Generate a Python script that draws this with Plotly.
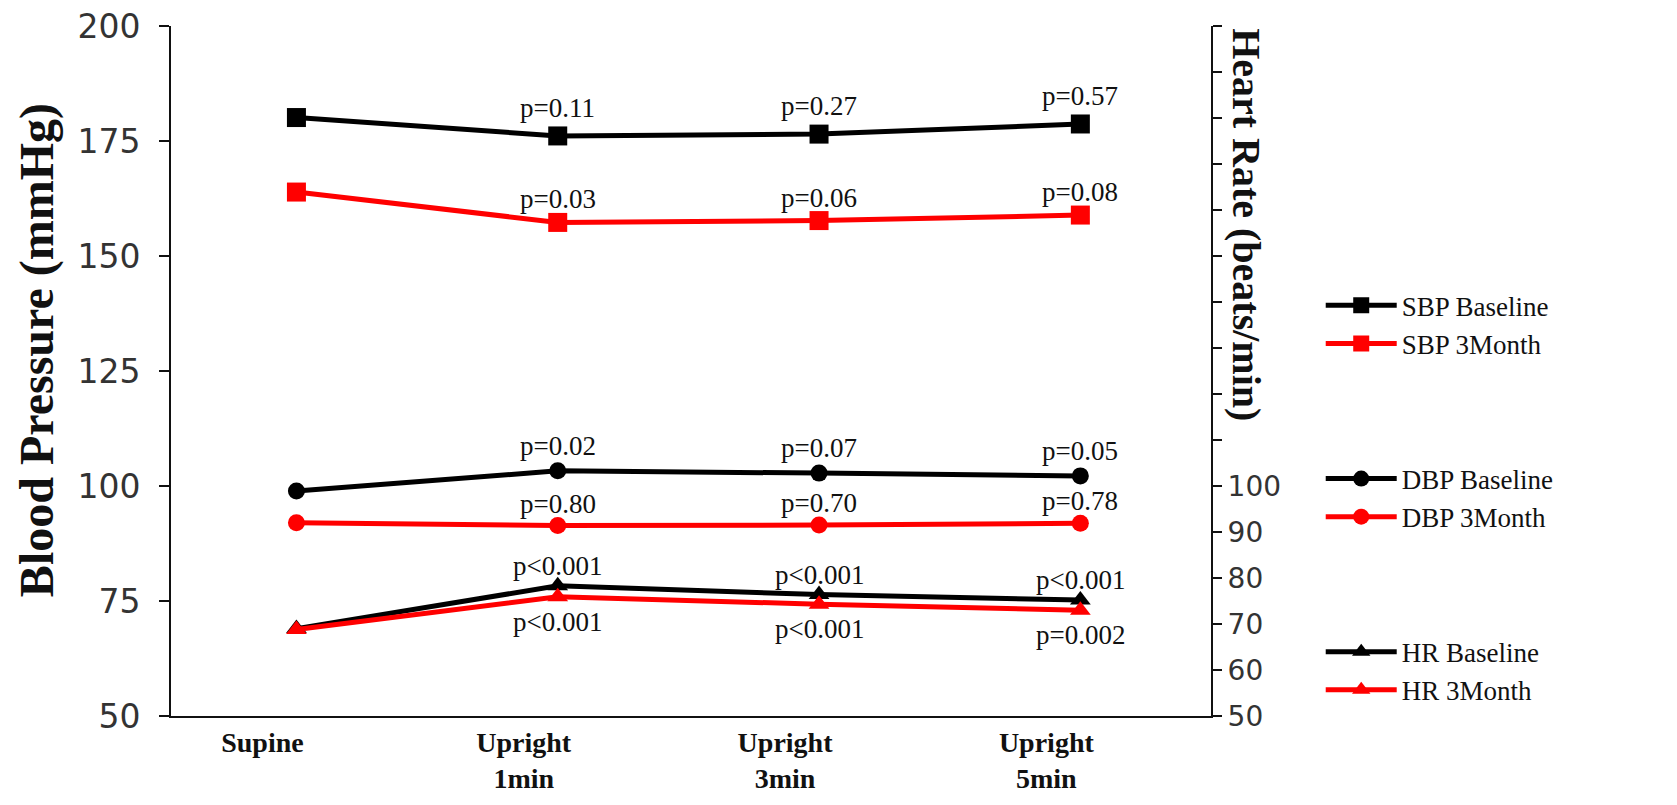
import plotly.graph_objects as go

# ---- data ----
categories = ["Supine", "Upright<br>1min", "Upright<br>3min", "Upright<br>5min"]
sbp_baseline = [180.1, 176.1, 176.5, 178.7]
sbp_3month = [163.9, 157.3, 157.7, 158.9]
dbp_baseline = [98.9, 103.3, 102.8, 102.2]
dbp_3month = [92.0, 91.4, 91.5, 91.9]
hr_baseline = [69.0, 78.3, 76.4, 75.2]
hr_3month = [68.8, 75.9, 74.3, 73.0]

p_sbp_baseline = ["p=0.11", "p=0.27", "p=0.57"]
p_sbp_3month = ["p=0.03", "p=0.06", "p=0.08"]
p_dbp_baseline = ["p=0.02", "p=0.07", "p=0.05"]
p_dbp_3month = ["p=0.80", "p=0.70", "p=0.78"]
p_hr_baseline = ["p<0.001", "p<0.001", "p<0.001"]
p_hr_3month = ["p<0.001", "p<0.001", "p=0.002"]

left_ticks = [50, 75, 100, 125, 150, 175, 200]
right_ticks = list(range(50, 201, 10))
right_ticktext = [str(v) if v <= 100 else "" for v in right_ticks]

xpos = list(range(len(categories)))

SERIF = "Liberation Serif, Times New Roman, serif"
SANS = "DejaVu Sans, Verdana, sans-serif"
BLACK = "#000000"
RED = "#ff0000"

fig = go.Figure()

series = [
    ("SBP Baseline", sbp_baseline, BLACK, "square", 19, "y", "sbp"),
    ("SBP 3Month", sbp_3month, RED, "square", 19, "y", "sbp"),
    ("DBP Baseline", dbp_baseline, BLACK, "circle", 17, "y", "dbp"),
    ("DBP 3Month", dbp_3month, RED, "circle", 17, "y", "dbp"),
    ("HR Baseline", hr_baseline, BLACK, "triangle-up", 18, "y2", "hr"),
    ("HR 3Month", hr_3month, RED, "triangle-up", 18, "y2", "hr"),
]
for name, vals, col, sym, size, yax, grp in series:
    fig.add_trace(go.Scatter(
        x=xpos, y=vals, name=name, mode="lines+markers",
        line=dict(color=col, width=5),
        marker=dict(symbol=sym, size=size, color=col),
        yaxis=yax, legendgroup=grp,
    ))

annots = []
def add_p(labels, vals, shift, yref):
    for i, txt in enumerate(labels):
        annots.append(dict(
            x=xpos[i + 1], y=vals[i + 1], xref="x", yref=yref, text=txt,
            showarrow=False, yanchor="middle", yshift=shift,
            font=dict(family=SERIF, size=27, color="#111"),
        ))

add_p(p_sbp_baseline, sbp_baseline, 28, "y")
add_p(p_sbp_3month, sbp_3month, 23, "y")
add_p(p_dbp_baseline, dbp_baseline, 25, "y")
add_p(p_dbp_3month, dbp_3month, 22, "y")
add_p(p_hr_baseline, hr_baseline, 20, "y2")
add_p(p_hr_3month, hr_3month, -25, "y2")

# axis titles
annots.append(dict(
    x=-0.129, y=0.53, xref="paper", yref="paper", text="<b>Blood Pressure (mmHg)</b>",
    textangle=-90, showarrow=False, xanchor="center", yanchor="middle",
    font=dict(family=SERIF, size=48, color="#111"),
))
annots.append(dict(
    x=1.034, y=1.0, xref="paper", yref="paper", text="<b>Heart Rate (beats/min)</b>",
    textangle=90, showarrow=False, xanchor="center", yanchor="top",
    font=dict(family=SERIF, size=40, color="#111"),
))

fig.update_layout(
    width=1677, height=805,
    margin=dict(l=163, r=474, t=18, b=97, autoexpand=False),
    paper_bgcolor="white", plot_bgcolor="white",
    showlegend=True,
    legend=dict(
        x=1.1055, y=0.63, xanchor="left", yanchor="top",
        font=dict(family=SERIF, size=27, color="#111"),
        tracegroupgap=97, itemwidth=71, bgcolor="rgba(0,0,0,0)",
    ),
    annotations=annots,
    xaxis=dict(
        range=[-0.48, 3.5], tickvals=xpos, ticktext=["<b>" + c + "</b>" for c in categories],
        showline=True, linecolor="#111", linewidth=2, ticks="", showgrid=False,
        zeroline=False, ticklabelshift=-34, ticklabelstandoff=0, automargin=False,
        ticklabeloverflow="allow",
        tickfont=dict(family=SERIF, size=28, color="#111"),
    ),
    yaxis=dict(
        range=[50, 200], tickvals=left_ticks, showline=True, linecolor="#111",
        linewidth=2, ticks="outside", ticklen=10, tickwidth=2, tickcolor="#111",
        showgrid=False, zeroline=False, ticklabelstandoff=12, automargin=False,
        ticklabeloverflow="allow",
        tickfont=dict(family=SANS, size=33, color="#333"),
    ),
    yaxis2=dict(
        range=[50, 200], overlaying="y", side="right", tickvals=right_ticks,
        ticktext=right_ticktext, showline=True, linecolor="#111", linewidth=2,
        ticks="outside", ticklen=9, tickwidth=2, tickcolor="#111",
        showgrid=False, zeroline=False, automargin=False,
        ticklabeloverflow="allow",
        tickfont=dict(family=SANS, size=28, color="#333"),
    ),
)

fig.write_html("out.html")
